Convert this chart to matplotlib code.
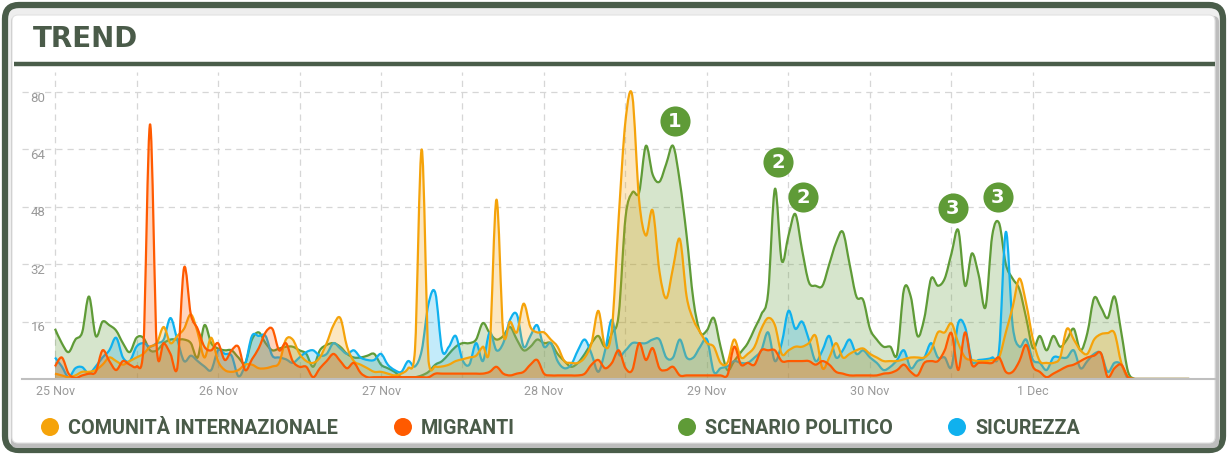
import matplotlib
matplotlib.use("Agg")
import matplotlib.pyplot as plt
from matplotlib.patches import FancyBboxPatch, Circle, PathPatch
from matplotlib.path import Path

# %% Data (hourly, 25 Nov 00:00 -> 1 Dec 23:00)

hours = list(range(168))

comunita = [
    1.5, 1, 0.5, 1, 2, 2, 2.5, 4, 6, 5, 4, 5, 6, 7, 9, 10, 14.5, 10, 12, 14, 18, 13, 6, 11.5,
    5, 2.5, 2, 2.5, 4, 4, 3, 3, 3.5, 4.5, 11, 11, 7, 5, 4.5, 6, 10, 15, 17, 9, 5, 4, 3, 2,
    2, 1.5, 1, 1.5, 3, 8, 64, 5, 3.5, 3.5, 4, 5, 5.5, 6, 6.5, 9, 9, 50, 13, 16, 13, 21, 14.5, 13,
    13, 11, 9, 5, 4.5, 4.5, 6, 10, 19, 9, 14, 45, 72, 79, 50, 40, 47, 30, 22.5, 31, 39, 23, 16.5, 13,
    10, 9, 4.5, 4.5, 11, 6, 7, 9, 14, 17, 15, 7, 8, 9, 9, 10, 12, 3, 6, 10, 6, 7, 8, 8.5,
    7, 6, 5, 5, 5, 5.5, 6, 6, 6, 8, 13, 13, 15.5, 10, 6, 5.3, 5, 5, 5.3, 6, 13, 20, 28, 21,
    11, 5, 4.5, 4.5, 6, 14, 11, 8, 7, 11, 12.5, 12.8, 12.8, 4.5, 0.5, 0, 0, 0, 0, 0, 0, 0, 0, 0,
]

migranti = [
    3.5, 6, 1.5, 0.3, 1, 1.5, 2, 8, 5, 2.5, 5, 4, 3.5, 8, 71, 8, 10, 7, 3, 31, 18, 14, 9, 8,
    10, 5.3, 8, 9, 2.5, 5.5, 8.6, 13, 14, 8, 10, 5, 3.4, 3.4, 0.5, 3, 5, 7, 5, 3, 4.5, 1.7, 0.5, 0.5,
    0.5, 0.5, 0.5, 0.5, 0.5, 0.5, 0.5, 0.5, 1.5, 1.5, 1.5, 1.5, 1.5, 1.5, 1.5, 1.5, 2, 3.4, 1.5, 1, 1.5, 2, 4, 5.3,
    1.5, 1, 1, 1, 1, 1, 1.5, 4, 5.3, 3, 4.5, 8, 3, 2.5, 10, 5.3, 8.6, 3, 2.5, 3.4, 1, 1, 1, 1,
    1, 1, 1, 1, 9, 4, 4.5, 4, 8, 8, 8, 5, 5, 5, 5, 5, 4, 5, 4, 2, 1.5, 1, 1, 1,
    1, 1, 1.5, 1.7, 2.5, 4, 2, 1, 4.5, 5, 5, 8, 12.8, 2.5, 13, 4, 4.5, 4.5, 4.5, 6, 2, 2, 5, 9.5,
    3.4, 2, 0.5, 1.5, 2.5, 3.5, 4, 5, 6, 6.5, 7.2, 0.5, 3, 4, 0.5, 0, 0, 0, 0, 0, 0, 0, 0, 0,
]

scenario = [
    14, 10, 7.5, 11, 13, 23, 12, 16, 15, 13.5, 10, 7.5, 11.5, 11.5, 8, 8, 10, 11, 11, 11, 10, 6, 15, 10,
    8.5, 8, 8, 6, 4.5, 11, 13, 10, 8, 8.5, 9, 9, 8, 7, 3.4, 8, 9.5, 10, 9, 7, 6, 6, 6.5, 7,
    4, 3, 2, 0.5, 0.5, 0.5, 1, 2, 4, 5, 7, 9, 10, 10, 11, 15.6, 12.8, 11, 12, 14.5, 11, 8, 9, 11,
    10, 10, 7, 5, 3.4, 4.5, 7, 10, 12, 9, 12.8, 18, 45, 52, 52, 65, 57, 55, 60, 65, 55, 40, 22, 13,
    13.6, 17, 9, 2.5, 5, 7.5, 10, 14, 18, 24, 53, 33, 40, 46, 36, 27, 26, 26, 32, 38, 41, 32, 23, 22,
    14, 11, 9, 9, 7, 25, 23, 12, 17, 28, 26, 28, 35, 41.5, 26, 35, 29, 20, 40, 43.5, 32, 28, 25, 17,
    8.6, 12, 8, 12, 9, 11, 14, 8, 12.8, 22.6, 20, 17, 23, 13, 2, 0, 0, 0, 0, 0, 0, 0, 0, 0,
]

sicurezza = [
    6, 3.5, 0.5, 3, 3.3, 1.5, 3.5, 6, 8, 11.5, 6, 5, 9, 10, 9, 10, 11, 17, 11, 5, 6.5, 5, 3.5, 2.5,
    8, 7, 6.5, 0.8, 4, 12, 12, 12, 6.5, 6, 5.5, 4.5, 6, 7.5, 8, 6.5, 7, 10, 8.5, 7, 8, 6, 5.3, 5.3,
    7, 4, 2.5, 2, 5, 3.5, 8, 21, 24, 8, 9, 12, 5.3, 4, 10, 5, 13, 8, 10, 16.5, 18, 9, 12, 15,
    9, 10, 5, 3, 4, 8, 11, 7, 2, 8, 16.5, 7, 8, 10, 10, 10, 11, 11, 6, 6, 11, 6, 6, 9,
    11, 2, 3, 3.5, 5, 4.5, 4.5, 6, 8, 13, 5, 10, 19, 14, 16, 11, 5, 8, 12, 6, 8, 11, 7, 8,
    6, 4.5, 2.5, 3.4, 5.3, 8, 3, 5, 6, 10, 6, 6, 3.4, 15.6, 14.5, 5, 5.3, 5.5, 6, 8, 41, 15, 9, 11,
    5.3, 4.5, 2.5, 6, 6, 6, 8, 3, 5, 7, 7.2, 2, 4.5, 4, 0, 0, 0, 0, 0, 0, 0, 0, 0, 0,
]

day_ticks = [0, 24, 48, 72, 96, 120, 144]
day_labels = ["25 Nov", "26 Nov", "27 Nov", "28 Nov", "29 Nov", "30 Nov", "1 Dec"]
y_ticks = [16, 32, 48, 64, 80]

# numbered markers: (hour, value, label)
markers = [(91.3, 72, "1"), (106.5, 60.5, "2"), (110.2, 50.8, "2"),
           (132.2, 47.7, "3"), (138.8, 50.8, "3")]

names = ["COMUNITÀ INTERNAZIONALE", "MIGRANTI", "SCENARIO POLITICO", "SICUREZZA"]
colors = ["#F5A30A", "#FF5A00", "#5F9B37", "#10B1EE"]
dark = "#4A5B49"


def spline(xs, ys):
    # smooth (catmull-rom style) path through the points, like an areaspline
    n = len(xs)
    verts = [(xs[0], ys[0])]
    codes = [Path.MOVETO]
    for i in range(n - 1):
        i0, i3 = max(i - 1, 0), min(i + 2, n - 1)
        c1 = (xs[i] + (xs[i + 1] - xs[i0]) / 6, max(0, ys[i] + (ys[i + 1] - ys[i0]) / 6))
        c2 = (xs[i + 1] - (xs[i3] - xs[i]) / 6, max(0, ys[i + 1] - (ys[i3] - ys[i]) / 6))
        verts += [c1, c2, (xs[i + 1], ys[i + 1])]
        codes += [Path.CURVE4] * 3
    return verts, codes


# %% Figure + card background (pixel coords)
fig = plt.figure(figsize=(12.29, 4.55), dpi=100)
bg = fig.add_axes([0, 0, 1, 1], zorder=0)
bg.set_xlim(0, 1229)
bg.set_ylim(455, 0)
bg.axis("off")

bg.add_patch(FancyBboxPatch((5, 5), 1218, 445, boxstyle="round,pad=0,rounding_size=14",
                            fc="#eeeeee", ec="#4A5D4A", lw=4.5))
bg.add_patch(FancyBboxPatch((11, 16), 1208, 432, boxstyle="round,pad=0,rounding_size=6",
                            fc="#bdbdbd", ec="none"))
bg.add_patch(FancyBboxPatch((12, 15), 1203, 428, boxstyle="round,pad=0,rounding_size=6",
                            fc="white", ec="#e2e2e2", lw=0.8))
bg.text(33, 39, "TREND", fontsize=20, fontweight="bold", color=dark,
        ha="left", va="center", family="DejaVu Sans")
bg.plot([14, 1215], [64, 64], color="#4A5D4A", lw=3.2, solid_capstyle="butt")

# legend
legend_x = [50, 403, 687, 957]
for lx, name, c in zip(legend_x, names, colors):
    bg.add_patch(Circle((lx, 427), 9, fc=c, ec="none"))
    bg.text(lx + 18, 428, name, fontsize=14.2, fontweight="bold", color=dark,
            ha="left", va="center", family="Roboto")

# %% Chart
ax = fig.add_axes([22 / 1229, 76 / 455, 1193 / 1229, 307 / 455], zorder=1)
ax.patch.set_alpha(0)
ax.set_xlim(-4.86, 170.8)
ax.set_ylim(0, 85.6)

series = [(scenario, colors[2]), (sicurezza, colors[3]), (comunita, colors[0]), (migranti, colors[1])]
for vals, c in series:
    verts, codes = spline(hours, vals)
    area = Path(verts + [(hours[-1], 0), (hours[0], 0), (hours[0], 0)],
                codes + [Path.LINETO, Path.LINETO, Path.CLOSEPOLY])
    ax.add_patch(PathPatch(area, fc=c, alpha=0.25, lw=0))
    ax.add_patch(PathPatch(Path(verts, codes), fc="none", ec=c, lw=1.6, joinstyle="round"))

for h, v, lab in markers:
    ax.scatter([h], [v], s=470, color="#5F9B37", zorder=5, clip_on=False, lw=0)
    ax.text(h, v - 0.2, lab, color="white", fontsize=14, fontweight="bold",
            ha="center", va="center", zorder=6, family="DejaVu Sans")

ax.set_xticks(day_ticks)
ax.set_xticklabels(day_labels, family="Roboto", fontsize=9, color="#9a9a9a")
ax.set_xticks(list(range(12, 145, 24)), minor=True)
ax.set_yticks(y_ticks)
ax.set_yticklabels([])
for v in y_ticks:
    ax.text(-1.4, v - 1.7, str(v), ha="right", va="center", family="Roboto",
            fontsize=9.5, color="#9a9a9a")
ax.tick_params(axis="both", which="both", length=0)
ax.tick_params(axis="x", pad=4)
ax.grid(True, which="both", axis="x", color="#d6d6d6", ls=(0, (5, 4)), lw=0.9)
ax.grid(True, axis="y", color="#d6d6d6", ls=(0, (5, 4)), lw=0.9)
ax.set_axisbelow(True)
for s in ["top", "right", "left"]:
    ax.spines[s].set_visible(False)
ax.spines["bottom"].set_color("#bfbfbf")
ax.spines["bottom"].set_linewidth(1.5)

fig.savefig("out.png", dpi=100)
